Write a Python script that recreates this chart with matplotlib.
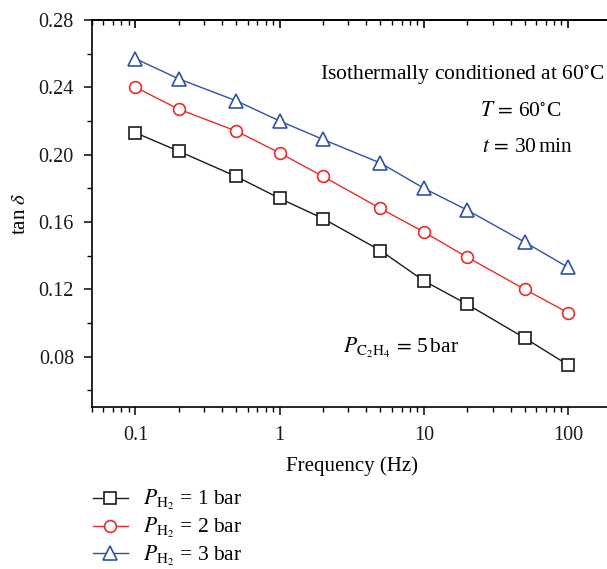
import numpy as np
import matplotlib.pyplot as plt
from matplotlib.ticker import MultipleLocator, LogLocator, NullFormatter

plt.rcParams['font.family'] = ['Liberation Serif', 'DejaVu Serif']
plt.rcParams['mathtext.fontset'] = 'stix'

freq = [0.1, 0.2, 0.5, 1, 2, 5, 10, 20, 50, 100]
tan_h1 = [0.213, 0.202, 0.187, 0.174, 0.162, 0.143, 0.125, 0.111, 0.091, 0.075]
tan_h2 = [0.240, 0.227, 0.214, 0.201, 0.187, 0.168, 0.154, 0.139, 0.120, 0.106]
tan_h3 = [0.257, 0.245, 0.232, 0.220, 0.209, 0.195, 0.180, 0.167, 0.148, 0.133]
labels = [r'$P_{\mathrm{H}_2}$ = 1 bar', r'$P_{\mathrm{H}_2}$ = 2 bar', r'$P_{\mathrm{H}_2}$ = 3 bar']

fs_tick = 14.5
fs_lab = 15
fs_note = 15.5
fig = plt.figure(figsize=(6.07, 5.69), dpi=100)
ax = fig.add_axes([92/607, 1-407/569, (611.5-92)/607, (407-20)/569])

ax.plot(freq, tan_h1, color='#1a1a1a', lw=1, marker='s', ms=8, mfc='white', mew=1.2, label=labels[0])
ax.plot(freq, tan_h2, color='#ee2a2a', lw=1, marker='o', ms=8.5, mfc='white', mew=1.2, label=labels[1])
ax.plot(freq, tan_h3, color='#3050a8', lw=1, marker='^', ms=10, mfc='white', mew=1.2, label=labels[2])

ax.set_xscale('log')
ax.set_xlim(0.05, 200)
ax.set_ylim(0.05, 0.28)
ax.set_xticks([0.1, 1, 10, 100])
ax.set_xticklabels(['0.1', '1', '10', '100'])
ax.xaxis.set_minor_locator(LogLocator(base=10, subs=np.arange(2, 10)))
ax.xaxis.set_minor_formatter(NullFormatter())
ax.set_yticks([0.08, 0.12, 0.16, 0.20, 0.24, 0.28])
ax.set_yticklabels(['0.08', '0.12', '0.16', '0.20', '0.24', '0.28'])
ax.yaxis.set_minor_locator(MultipleLocator(0.02))

ax.spines['right'].set_visible(False)
for s in ['left', 'bottom', 'top']:
    ax.spines[s].set_linewidth(1.2)
ax.tick_params(which='major', direction='out', length=6, width=1.2, labelsize=fs_tick, colors='#1a1a1a')
ax.tick_params(which='minor', direction='out', length=3.5, width=1.0)
ax.tick_params(axis='y', which='both', pad=7)
ax.tick_params(axis='x', which='both', pad=8)

# top axis ticks point inward
top = ax.secondary_xaxis('top')
top.set_xticks([0.1, 1, 10, 100])
top.xaxis.set_minor_locator(LogLocator(base=10, subs=np.arange(2, 10)))
top.xaxis.set_minor_formatter(NullFormatter())
top.tick_params(which='major', direction='in', length=6, width=1.2, labeltop=False)
top.tick_params(which='minor', direction='in', length=3.5, width=1.0)
top.spines['top'].set_linewidth(1.2)

ax.set_xlabel('Frequency (Hz)', fontsize=fs_lab, labelpad=8)
ax.set_ylabel(r'tan $\delta$', fontsize=fs_lab, labelpad=6)

ax.text(605/607, 1-75/569, r'Isothermally conditioned at 60$^{\circ}$C', transform=fig.transFigure,
        ha='right', va='center', fontsize=fs_note)
ax.text(480/607, 1-112/569, r'$T\,=\,$60$^{\circ}$C', transform=fig.transFigure, ha='left', va='center', fontsize=fs_note)
ax.text(482/607, 1-148/569, r'$t\,=\,$30$\,$min', transform=fig.transFigure, ha='left', va='center', fontsize=fs_note)
ax.text(343/607, 1-348/569, r'$P_{\mathrm{C_2H_4}}\,=\,$5$\,$bar', transform=fig.transFigure, ha='left', va='center', fontsize=fs_note)

fig.legend(loc='upper left', bbox_to_anchor=(78/607, 1-473/569), frameon=False, fontsize=fs_note,
           handlelength=1.6, labelspacing=0.18, handletextpad=0.7, borderpad=0.2)

fig.savefig('out.png', dpi=100)
